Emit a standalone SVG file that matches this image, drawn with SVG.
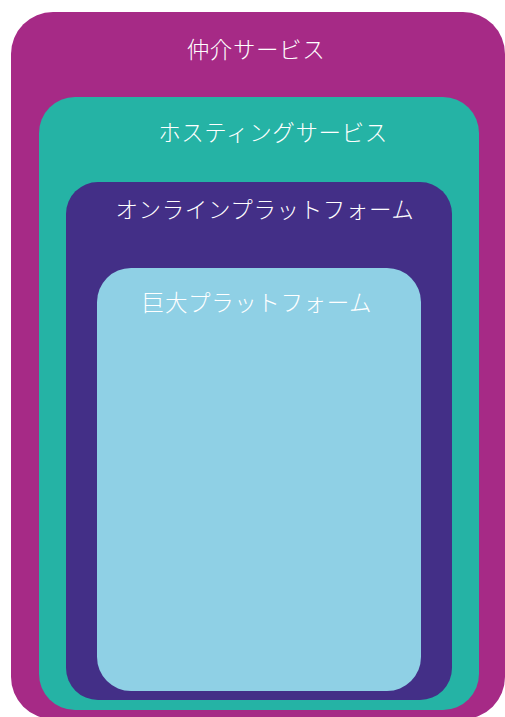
<svg xmlns="http://www.w3.org/2000/svg" width="505" height="717" viewBox="0 0 505 717">
<style>
.t{font-family:"Noto Sans CJK JP","Noto Sans",sans-serif;font-size:22.5px;font-weight:300;fill:#ffffff;text-anchor:middle;letter-spacing:0.6px}
</style>
<rect width="505" height="717" fill="#ffffff"/>
<g id="intermediary">
<rect x="11" y="12" width="494" height="707" rx="42" ry="42" fill="#A62A86"/>
<text class="t" x="256" y="58">仲介サービス</text>
</g>
<g id="hosting">
<rect x="39" y="97" width="440" height="613" rx="36" ry="36" fill="#25B3A5"/>
<text class="t" x="273" y="141">ホスティングサービス</text>
</g>
<g id="online">
<rect x="66" y="182" width="386" height="518" rx="32" ry="32" fill="#432F87"/>
<text class="t" x="265" y="218">オンラインプラットフォーム</text>
</g>
<g id="large">
<rect x="97" y="268" width="324" height="423" rx="34" ry="34" fill="#8FD0E5"/>
<text class="t" x="257" y="311">巨大プラットフォーム</text>
</g>
<g id="connectors"/>
</svg>
